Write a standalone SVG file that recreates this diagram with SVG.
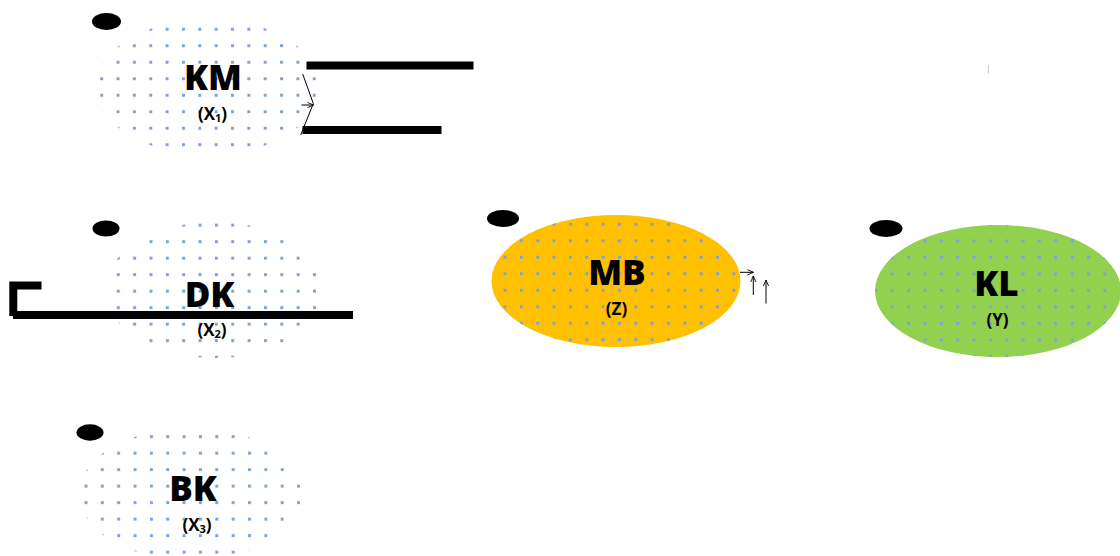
<svg xmlns="http://www.w3.org/2000/svg" xmlns:xlink="http://www.w3.org/1999/xlink" width="1120" height="556" viewBox="0 0 1120 556">
  <style>
    .title { font-family: "Open Sans", "Liberation Sans", sans-serif; font-weight: 800; font-size: 35px; fill: #000; text-anchor: middle; }
    .sub { font-family: "Open Sans", "Liberation Sans", sans-serif; font-weight: 700; font-size: 17px; fill: #000; text-anchor: middle; }
    .badge { fill: #000; }
    .bar { stroke: #000; stroke-width: 8; fill: none; }
    .thin { stroke: #000; stroke-width: 1; fill: none; }
  </style>
  <defs>
    <!-- dotted grid fill, re-anchored per node -->
    <pattern id="dots" patternUnits="userSpaceOnUse" width="16.35" height="16.5">
      <rect x="6.7" y="6.75" width="3" height="3" fill="#7fa3d6"/>
    </pattern>
    <pattern id="dotsKM" href="#dots" xlink:href="#dots" x="93.5" y="21"/>
    <pattern id="dotsDK" href="#dots" xlink:href="#dots" x="110.1" y="233.4"/>
    <pattern id="dotsBK" href="#dots" xlink:href="#dots" x="77.8" y="428.4"/>
    <pattern id="dotsMB" href="#dots" xlink:href="#dots" x="496.8" y="216"/>
    <pattern id="dotsKL" href="#dots" xlink:href="#dots" x="884.1" y="232.7"/>
    <marker id="arr" viewBox="0 0 8 8" refX="7" refY="4" markerWidth="7" markerHeight="7" orient="auto" markerUnits="userSpaceOnUse">
      <path d="M0,1 L7,4 L0,7" fill="none" stroke="#000" stroke-width="1"/>
    </marker>
  </defs>

  <rect width="1120" height="556" fill="#fff"/>

  <g id="node-KM">
    <ellipse cx="208" cy="87" rx="112" ry="68" fill="url(#dotsKM)"/>
    <ellipse class="badge" cx="106.5" cy="21.5" rx="14.5" ry="8.5"/>
    <text class="title" x="213" y="90">KM</text>
    <text class="sub" x="212.5" y="120">(X<tspan font-size="11" dy="2">1</tspan><tspan dy="-2">)</tspan></text>
  </g>

  <g id="node-DK">
    <ellipse cx="215" cy="290" rx="110" ry="68" fill="url(#dotsDK)"/>
    <ellipse class="badge" cx="106" cy="228.5" rx="13.5" ry="8"/>
    <text class="title" x="209.5" y="306.5">DK</text>
    <text class="sub" x="212" y="336">(X<tspan font-size="11" dy="2">2</tspan><tspan dy="-2">)</tspan></text>
  </g>

  <g id="node-BK">
    <ellipse cx="191" cy="494" rx="112" ry="66" fill="url(#dotsBK)"/>
    <ellipse class="badge" cx="90" cy="432.5" rx="13.5" ry="8.3"/>
    <text class="title" x="193" y="501">BK</text>
    <text class="sub" x="197" y="531">(X<tspan font-size="11" dy="2">3</tspan><tspan dy="-2">)</tspan></text>
  </g>

  <g id="node-MB">
    <ellipse cx="616" cy="281" rx="124.5" ry="66" fill="#ffc000"/>
    <ellipse cx="616" cy="281" rx="124.5" ry="66" fill="url(#dotsMB)"/>
    <ellipse class="badge" cx="503" cy="218.5" rx="16" ry="8.5"/>
    <text class="title" x="617" y="285">MB</text>
    <text class="sub" x="616.5" y="315">(Z)</text>
  </g>

  <g id="node-KL">
    <ellipse cx="998" cy="291" rx="123" ry="66" fill="#92d050"/>
    <ellipse cx="998" cy="291" rx="123" ry="66" fill="url(#dotsKL)"/>
    <ellipse class="badge" cx="886" cy="228.5" rx="16.5" ry="8.5"/>
    <text class="title" x="996.5" y="296">KL</text>
    <text class="sub" x="997.5" y="326">(Y)</text>
  </g>

  <g id="connectors">
    <!-- KM bars and bracket -->
    <line class="bar" x1="306.5" y1="65.5" x2="473.5" y2="65.5"/>
    <line class="bar" x1="302.5" y1="130" x2="441.5" y2="130"/>
    <polyline class="thin" points="302.7,74 313.3,103.5 300.7,135"/>
    <line class="thin" x1="301.5" y1="105" x2="313.5" y2="105" marker-end="url(#arr)"/>
    <!-- DK bar and bracket -->
    <line class="bar" x1="13" y1="315" x2="353" y2="315"/>
    <polyline class="bar" points="41.5,285.5 13.3,285.5 13.3,316"/>
    <!-- MB arrows -->
    <line class="thin" x1="740" y1="272.3" x2="753.5" y2="272.3" marker-end="url(#arr)"/>
    <line class="thin" x1="753.3" y1="295" x2="753.3" y2="276" marker-end="url(#arr)"/>
    <line class="thin" x1="766" y1="303.5" x2="766" y2="280" marker-end="url(#arr)" stroke="#333"/>
    <!-- faint tick -->
    <line x1="988.5" y1="65" x2="988.5" y2="73.5" stroke="#c8c8c8" stroke-width="1"/>
  </g>
</svg>
